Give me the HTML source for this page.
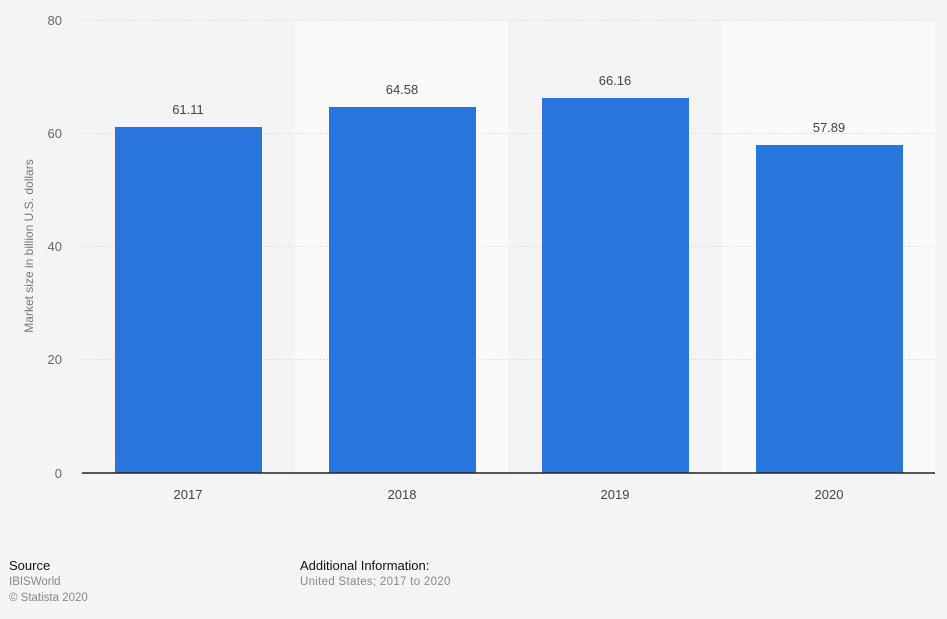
<!DOCTYPE html>
<html><head><style>
html,body{margin:0;padding:0;background:#f4f4f4;}
svg{display:block;font-family:"Liberation Sans",Arial,sans-serif;}
</style></head><body>
<svg width="947" height="619" viewBox="0 0 947 619">
<rect width="947" height="619" fill="#f4f4f4"/>
<rect x="295" y="20" width="213" height="453" fill="#fafafa"/>
<rect x="722" y="20" width="213" height="453" fill="#fafafa"/>
<g stroke="#d8d8d8" stroke-dasharray="1.5,2" stroke-width="1">
<line x1="82" y1="20.5" x2="935" y2="20.5"/>
<line x1="82" y1="133.5" x2="935" y2="133.5"/>
<line x1="82" y1="246.5" x2="935" y2="246.5"/>
<line x1="82" y1="359.5" x2="935" y2="359.5"/>
</g>
<g fill="#2876dd">
<rect x="115" y="127" width="147" height="346"/>
<rect x="329" y="107" width="147" height="366"/>
<rect x="542" y="98" width="147" height="375"/>
<rect x="756" y="145" width="147" height="328"/>
</g>
<line x1="82" y1="473" x2="935" y2="473" stroke="#222" stroke-width="1.5"/>
<g font-size="13" fill="#666" text-anchor="end">
<text x="62" y="25">80</text>
<text x="62" y="138">60</text>
<text x="62" y="251">40</text>
<text x="62" y="364">20</text>
<text x="62" y="478">0</text>
</g>
<g font-size="13" fill="#444" text-anchor="middle">
<text x="188" y="499">2017</text>
<text x="402" y="499">2018</text>
<text x="615" y="499">2019</text>
<text x="829" y="499">2020</text>
<text x="188" y="114">61.11</text>
<text x="402" y="94">64.58</text>
<text x="615" y="85">66.16</text>
<text x="829" y="132">57.89</text>
</g>
<text transform="translate(33,246) rotate(-90)" font-size="12" fill="#777" text-anchor="middle">Market size in billion U.S. dollars</text>
<text x="9" y="570" font-size="13" fill="#111">Source</text>
<text x="9" y="585" font-size="11.5" fill="#888">IBISWorld</text>
<text x="9" y="601" font-size="11.5" fill="#888">© Statista 2020</text>
<text x="300" y="570" font-size="13" fill="#111">Additional Information:</text>
<text x="300" y="585" font-size="11.5" fill="#888" letter-spacing="0.3">United States; 2017 to 2020</text>
</svg>
</body></html>
